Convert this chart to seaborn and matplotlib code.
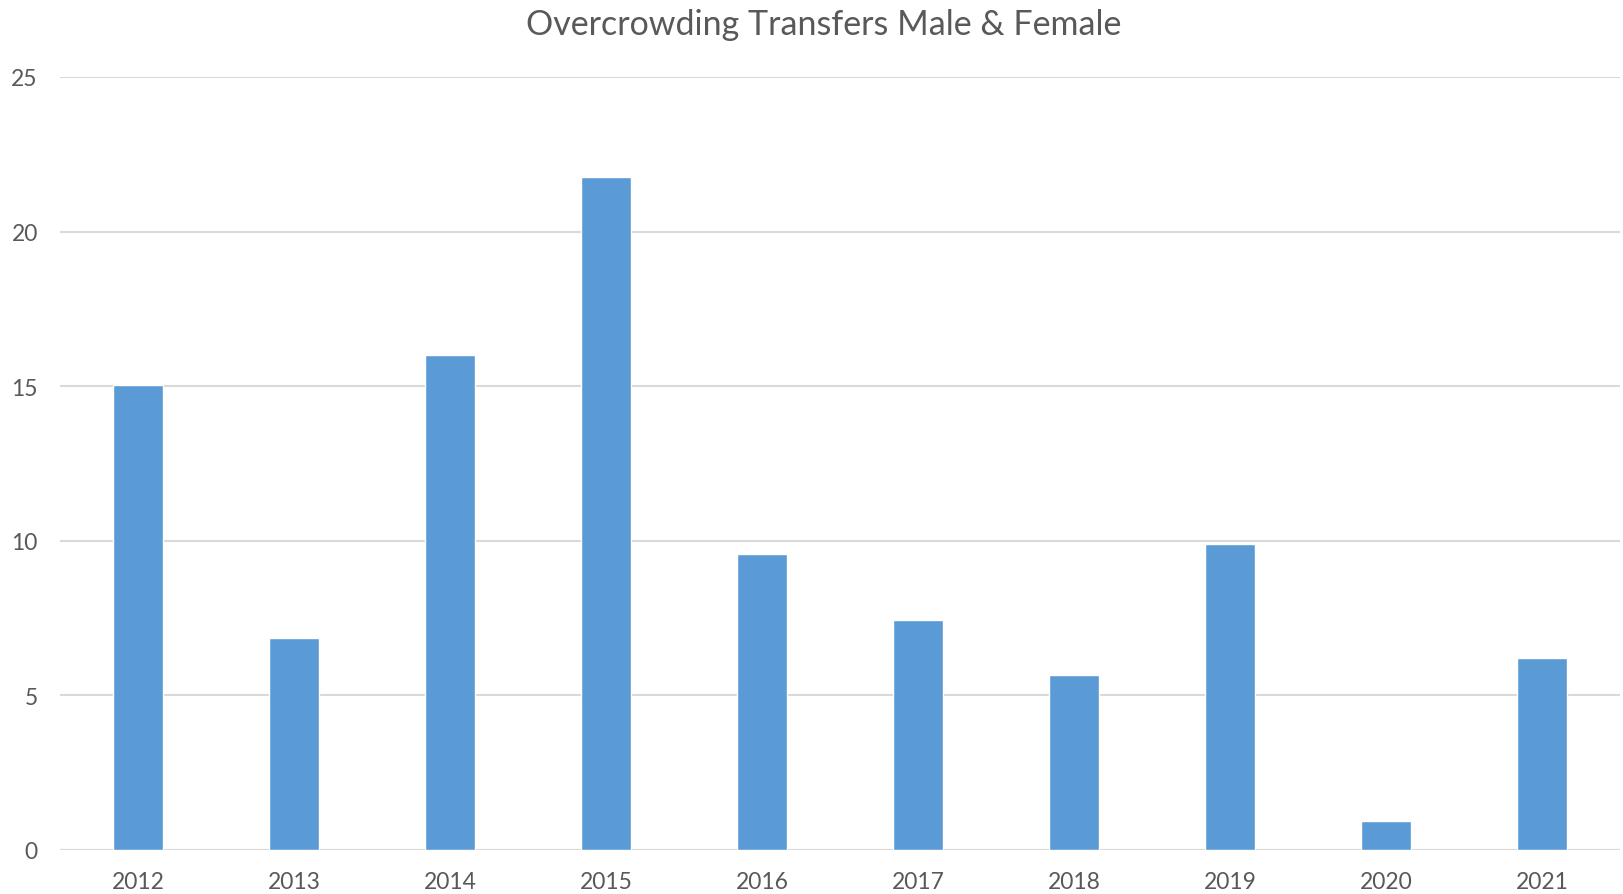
import pandas as pd
import matplotlib
matplotlib.use('Agg')
import matplotlib.pyplot as plt
import seaborn as sns

# values
years = ['2012', '2013', '2014', '2015', '2016', '2017', '2018', '2019', '2020', '2021']
transfers = [15.05, 6.87, 16.0, 21.77, 9.58, 7.44, 5.66, 9.91, 0.95, 6.22]

df = pd.DataFrame({'Year': years, 'Transfers': transfers})

sns.set_style('white')
plt.rcParams['font.family'] = ['Lato', 'DejaVu Sans']

text_col = '#595959'
fig = plt.figure(figsize=(16.23, 8.95), dpi=100)
ax = fig.add_axes([60 / 1623, 1 - 851 / 895, 1560 / 1623, 773 / 895])

sns.barplot(data=df, x='Year', y='Transfers', color='#5B9BD5', width=0.32,
            saturation=1, ax=ax)

ax.set_ylim(0, 25)
ax.set_xlim(-0.5, 9.5)
ax.set_yticks(range(0, 26, 5))
ax.yaxis.grid(True, color='#D9D9D9', linewidth=1.5)
ax.set_axisbelow(True)
for s in ax.spines.values():
    s.set_visible(False)
ax.axhline(0, color='#D9D9D9', linewidth=1.5, zorder=0.5)
ax.set_xlabel('')
ax.set_ylabel('')
ax.tick_params(axis='both', length=0, labelsize=16.5, labelcolor=text_col)
ax.tick_params(axis='y', pad=16)
ax.tick_params(axis='x', pad=15)

fig.text(824 / 1623, 1 - 25 / 895, 'Overcrowding Transfers Male & Female',
         ha='center', va='center', fontsize=24.5, color=text_col)

fig.savefig('out.png', dpi=100)
